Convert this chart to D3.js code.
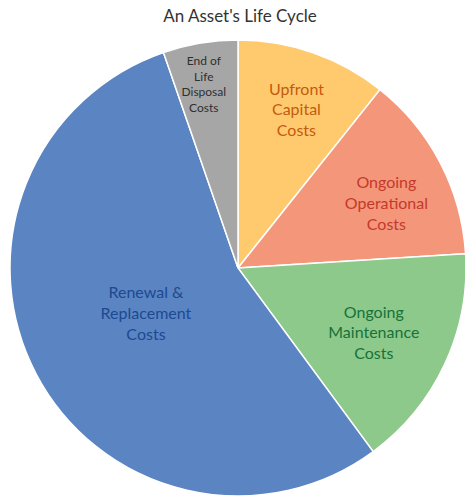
<!DOCTYPE html>
<html>
<head>
<meta charset="utf-8">
<script src="https://cdn.jsdelivr.net/npm/d3@7"></script>
<style>
  body { margin: 0; background: #fff; }
  svg { display: block; font-family: Lato, "Open Sans", sans-serif; }
</style>
</head>
<body>
<div id="chart"></div>
<script>
// slice data, clockwise from 12 o'clock
const categories = ["Upfront Capital Costs", "Ongoing Operational Costs", "Ongoing Maintenance Costs", "Renewal & Replacement Costs", "End of Life Disposal Costs"];
const labelLines = [
    ["Upfront", "Capital", "Costs"],
    ["Ongoing", "Operational", "Costs"],
    ["Ongoing", "Maintenance", "Costs"],
    ["Renewal &", "Replacement", "Costs"],
    ["End of", "Life", "Disposal", "Costs"]
];
const values = [10.7, 13.3, 15.9, 54.8, 5.3];

const width = 465;
const height = 497;
const radius = 228;
const cx = 238, cy = 268;

const fills = ["#FFCA6E", "#F4967A", "#8DC98A", "#5B84C3", "#A6A6A6"];
const textColors = ["#C45A0E", "#C43A2A", "#17713A", "#1C4A90", "#2F2F2F"];
// label placement: fraction of radius, and angle nudge in degrees
const labelRadius = [0.74, 0.71, 0.66, 0.45, 0.82];
const labelNudge = [1, 4, 0.5, 1.5, -1];
const fontSizes = [16, 16, 16, 16, 12];

const svg = d3.select("#chart").append("svg")
    .attr("width", width)
    .attr("height", height);

svg.append("text")
    .attr("x", 240)
    .attr("y", 22)
    .attr("text-anchor", "middle")
    .attr("font-size", 17)
    .attr("fill", "#333")
    .text("An Asset's Life Cycle");

const pie = d3.pie().sort(null).value(d => d);
const arcs = pie(values);

const arc = d3.arc().innerRadius(0).outerRadius(radius);

const g = svg.append("g")
    .attr("transform", "translate(" + cx + "," + cy + ")");

g.selectAll(".slice")
    .data(arcs)
    .enter().append("path")
    .attr("class", "slice")
    .attr("d", arc)
    .attr("fill", (d, i) => fills[i])
    .attr("stroke", "#fff")
    .attr("stroke-width", 1.5);

const labels = g.selectAll(".label")
    .data(arcs)
    .enter().append("text")
    .attr("class", "label")
    .attr("text-anchor", "middle")
    .attr("font-size", (d, i) => fontSizes[i])
    .attr("fill", (d, i) => textColors[i])
    .attr("transform", (d, i) => {
        const r = radius * labelRadius[i];
        const a = (d.startAngle + d.endAngle) / 2 + labelNudge[i] * Math.PI / 180;
        return "translate(" + (r * Math.sin(a)) + "," + (-r * Math.cos(a)) + ")";
    });

labels.each(function (d, i) {
    const lines = labelLines[i];
    const lh = fontSizes[i] * 1.3;
    const t = d3.select(this);
    lines.forEach((line, k) => {
        t.append("tspan")
            .attr("x", 0)
            .attr("y", (k - (lines.length - 1) / 2) * lh)
            .attr("dy", "0.35em")
            .text(line);
    });
});
</script>
</body>
</html>
